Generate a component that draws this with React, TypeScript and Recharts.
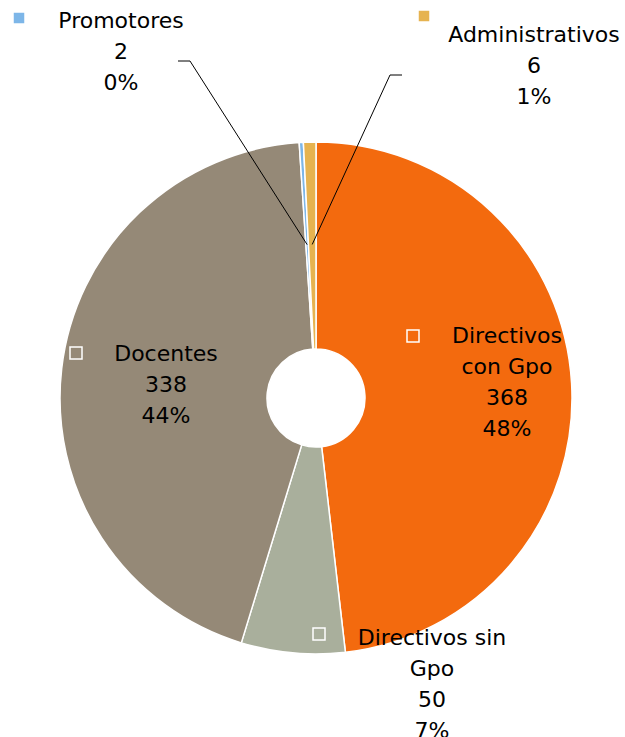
import { PieChart, Pie, Cell } from 'recharts';

const categories = ['Directivos con Gpo', 'Directivos sin Gpo', 'Docentes', 'Promotores', 'Administrativos'];
const counts = [368, 50, 338, 2, 6];
const colors = ['#F36A0E', '#A9AF9C', '#958977', '#7DB6E8', '#E6B350'];

// label text broken into lines like the original
const labelLines = [['Directivos', 'con Gpo'], ['Directivos sin', 'Gpo'], ['Docentes'], ['Promotores'], ['Administrativos']];

// label placement relative to the pie centre
const labelLayout = [
    { tx: 191, ty: -63, mx: 91, my: -68 },
    { tx: 116, ty: 239, mx: -3, my: 230 },
    { tx: -150, ty: -45, mx: -246, my: -51 },
    { tx: -195, ty: -378, mx: -303, my: -386, leader: { x1: -126, x2: -138, y: -337 } },
    { tx: 218, ty: -364, mx: 102, my: -388, leader: { x1: 74, x2: 86, y: -323 } },
];

const data = categories.map((name, i) => ({ name, value: counts[i] }));
const total = counts.reduce((a, b) => a + b, 0);

const FONT = '"DejaVu Sans", sans-serif';
const LINE = 31;
const RAD = Math.PI / 180;

const renderLabel = (props: any) => {
    const { cx, cy, midAngle, outerRadius, index, value } = props;
    const l = labelLayout[index];
    const lines = [...labelLines[index], String(value), `${Math.round((value / total) * 100)}%`];
    let leader = null;
    if (l.leader) {
        const r = outerRadius * 0.6;
        const ex = cx + r * Math.cos(-midAngle * RAD);
        const ey = cy + r * Math.sin(-midAngle * RAD);
        leader = (
            <polyline
                points={`${cx + l.leader.x2},${cy + l.leader.y} ${cx + l.leader.x1},${cy + l.leader.y} ${ex},${ey}`}
                fill="none"
                stroke="#000"
                strokeWidth={1}
            />
        );
    }
    return (
        <g key={`lbl-${index}`}>
            {leader}
            <rect x={cx + l.mx} y={cy + l.my} width={12} height={12} fill={colors[index]} stroke="#fff" strokeWidth={1.5} />
            {lines.map((t, k) => (
                <text
                    key={k}
                    x={cx + l.tx}
                    y={cy + l.ty + k * LINE}
                    textAnchor="middle"
                    dominantBaseline="central"
                    fontFamily={FONT}
                    fontSize={22}
                    fill="#000"
                >
                    {t}
                </text>
            ))}
        </g>
    );
};

export default function App() {
    return (
        <div style={{ position: 'absolute', left: 0, top: 0, width: 625, height: 737, background: '#fff' }}>
            <PieChart width={625} height={737} margin={{ top: 0, right: 0, bottom: 0, left: 0 }}>
                <Pie
                    data={data}
                    dataKey="value"
                    nameKey="name"
                    cx={316}
                    cy={398}
                    innerRadius={49}
                    outerRadius={256}
                    startAngle={90}
                    endAngle={-270}
                    stroke="#fff"
                    strokeWidth={1.5}
                    label={renderLabel}
                    labelLine={false}
                    isAnimationActive={false}
                >
                    {data.map((d, i) => (
                        <Cell key={d.name} fill={colors[i]} />
                    ))}
                </Pie>
            </PieChart>
        </div>
    );
}
